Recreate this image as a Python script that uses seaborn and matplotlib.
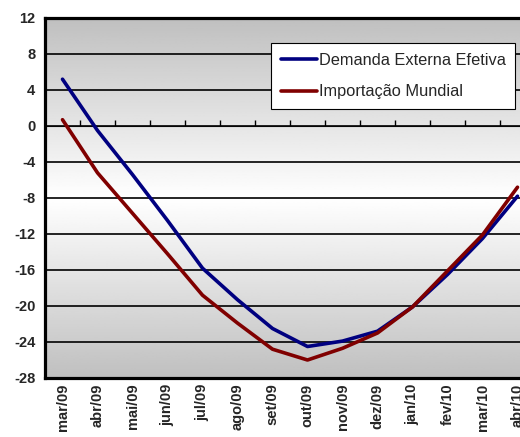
import numpy as np
import pandas as pd
import seaborn as sns
from matplotlib import pyplot as plt

meses = ["mar/09", "abr/09", "mai/09", "jun/09", "jul/09", "ago/09", "set/09",
         "out/09", "nov/09", "dez/09", "jan/10", "fev/10", "mar/10", "abr/10"]
demanda = [5.2, -0.5, -5.4, -10.5, -15.8, -19.3, -22.5,
           -24.5, -23.9, -22.8, -20.1, -16.5, -12.5, -7.8]
importacao = [0.7, -5.2, -9.7, -14.2, -18.8, -21.9, -24.8,
              -26.0, -24.7, -23.0, -20.1, -16.1, -12.1, -6.8]
yticks = list(range(-28, 13, 4))

df = pd.DataFrame({
    "pos": list(range(len(meses))) * 2,
    "valor": demanda + importacao,
    "serie": ["Demanda Externa Efetiva"] * len(meses) + ["Importação Mundial"] * len(meses),
})

sns.set_style("white")
plt.rcParams["font.family"] = ["Liberation Sans", "DejaVu Sans"]

fig = plt.figure(figsize=(5.2, 4.37), dpi=100)
ax = fig.add_axes([45 / 520, 59 / 437, 490 / 520, 360 / 437])

# background gradient: grey at top and bottom, white in the middle
t = np.linspace(0, 1, 256).reshape(-1, 1)
shade = 0.75 + 0.25 * (1 - np.abs(t - 0.5) * 2)
ax.imshow(shade, extent=[-0.5, 13.5, -28, 12], aspect="auto", cmap="gray",
          vmin=0, vmax=1, zorder=0, origin="lower")

sns.lineplot(data=df, x="pos", y="valor", hue="serie", sort=False,
             palette=["#000080", "#800000"], linewidth=2.6, ax=ax, zorder=3)

ax.set_xlim(-0.5, 13.5)
ax.set_ylim(-28, 12)
ax.set_yticks(yticks)
ax.set_yticklabels([str(v) for v in yticks], fontweight="bold", fontsize=10.5)
ax.set_xticks(range(len(meses)))
ax.set_xticklabels(meses, rotation=90, fontweight="bold", fontsize=10.5, va="top")
ax.tick_params(axis="x", length=0, pad=4)
ax.tick_params(axis="y", length=4, width=1, direction="out", pad=3, color="black")
for yv in yticks[1:-1]:
    ax.axhline(yv, color="black", lw=1.2, zorder=2)
ax.set_xlabel("")
ax.set_ylabel("")

for s in ["left", "bottom", "top"]:
    ax.spines[s].set_linewidth(2.3)
    ax.spines[s].set_color("black")
ax.spines["right"].set_visible(False)

# category tick marks sitting on the zero line
sec = ax.secondary_xaxis(28 / 40)
sec.set_xticks(np.arange(-0.5, 14, 1))
sec.set_xticklabels([])
sec.tick_params(length=4, width=1, direction="out", color="black")
sec.spines["bottom"].set_visible(False)

leg = ax.legend(loc="upper left", bbox_to_anchor=(0.461, 0.93), frameon=True,
                fancybox=False, edgecolor="black", framealpha=1, fontsize=11.8,
                handlelength=2.2, handletextpad=0.12, labelspacing=1.0,
                borderpad=0.6, borderaxespad=0)
leg.get_frame().set_linewidth(0.8)
for ln in leg.get_lines():
    ln.set_linewidth(2.6)

fig.savefig("out.png", dpi=100)
